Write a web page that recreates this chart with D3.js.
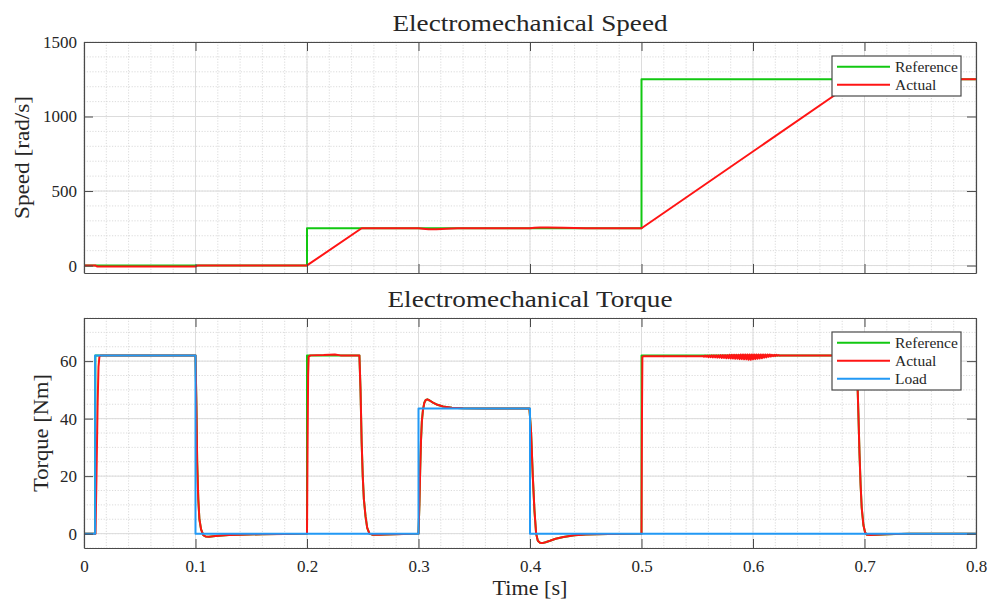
<!DOCTYPE html>
<html><head><meta charset="utf-8">
<script src="https://cdn.jsdelivr.net/npm/d3@7"></script>
<style>
body{margin:0;background:#fff}
svg{display:block}
text{font-family:"Liberation Serif","Times New Roman",serif;fill:#262626}
</style></head><body>
<svg id="chart" width="989" height="601"></svg>
<script>
// ---------------- data ----------------
const xTicks = [0, 0.1, 0.2, 0.3, 0.4, 0.5, 0.6, 0.7, 0.8];
const xTickLabels = ["0", "0.1", "0.2", "0.3", "0.4", "0.5", "0.6", "0.7", "0.8"];
const speedTicks = [0, 500, 1000, 1500];
const speedTickLabels = ["0", "500", "1000", "1500"];
const torqueTicks = [0, 20, 40, 60];
const torqueTickLabels = ["0", "20", "40", "60"];

const speedRefTime  = [0, 0.2, 0.2, 0.5, 0.5, 0.8];
const speedRefValue = [0, 0, 250, 250, 1250, 1250];

const speedActTime  = [0, 0.0105, 0.012, 0.1, 0.102, 0.2, 0.249, 0.3, 0.304, 0.309, 0.316, 0.325, 0.335, 0.4, 0.404, 0.409, 0.416, 0.43, 0.45, 0.5, 0.694, 0.8];
const speedActValue = [0, 0, -7, -7, 1, 1, 250, 250, 247, 244, 244, 247, 250, 250, 253, 256, 256, 253, 250, 250, 1250, 1250];

const torqueRefTime  = [0, 0.01, 0.0102, 0.1, 0.1008, 0.1015, 0.1025, 0.1035, 0.105, 0.107, 0.109, 0.112, 0.118, 0.13, 0.16, 0.2,
  0.2, 0.247, 0.248, 0.249, 0.25, 0.251, 0.2525, 0.254, 0.256, 0.259, 0.27, 0.3,
  0.3008, 0.3015, 0.3022, 0.303, 0.304, 0.3052, 0.3065, 0.308, 0.31, 0.313, 0.317, 0.322, 0.33, 0.34, 0.36, 0.3995,
  0.401, 0.4025, 0.404, 0.4055, 0.407, 0.409, 0.411, 0.414, 0.418, 0.423, 0.43, 0.44, 0.45, 0.47, 0.5,
  0.5, 0.6925, 0.6935, 0.6945, 0.6955, 0.6965, 0.6975, 0.699, 0.7005, 0.702, 0.71, 0.74, 0.8];
const torqueRefValue = [0, 0, 62, 62, 45, 25, 12, 5, 1.5, -0.5, -1, -1.1, -0.8, -0.5, -0.2, 0,
  62, 62, 50, 32, 20, 12, 6, 2, 0, -0.4, -0.3, 0,
  10, 22, 32, 39, 43, 45.5, 46.5, 46.7, 46.3, 45.6, 44.8, 44.2, 43.8, 43.6, 43.5, 43.5,
  35, 20, 8, 0, -2.5, -3.2, -3.3, -3, -2.5, -1.8, -1.2, -0.6, -0.3, -0.1, 0,
  62, 62, 55, 42, 28, 17, 9, 3, 0.5, -0.4, -0.4, 0, 0];

// actual torque as [time, value] rows
const torqueActual = [
  [0, 0], [0.0103, 0], [0.0112, 20], [0.0122, 45], [0.013, 58], [0.0138, 61.5], [0.015, 62], [0.1, 62],
  [0.1008, 45], [0.1015, 25], [0.1025, 12], [0.1035, 5], [0.105, 1.5], [0.107, -0.5], [0.109, -1], [0.112, -1.1],
  [0.118, -0.8], [0.13, -0.5], [0.14, -0.4], [0.16, -0.2], [0.18, -0.1], [0.2, 0],
  [0.2005, 30], [0.201, 55], [0.2015, 61.5], [0.203, 62], [0.215, 62.1], [0.225, 62.3], [0.23, 62], [0.247, 62],
  [0.248, 50], [0.249, 32], [0.25, 20], [0.251, 12], [0.2525, 6], [0.254, 2], [0.256, 0], [0.259, -0.4],
  [0.265, -0.4], [0.27, -0.3], [0.28, -0.2], [0.3, 0],
  [0.3008, 10], [0.3015, 22], [0.3022, 32], [0.303, 39], [0.304, 43], [0.3052, 45.5], [0.3065, 46.5], [0.308, 46.7],
  [0.31, 46.3], [0.313, 45.6], [0.317, 44.8], [0.322, 44.2], [0.33, 43.8], [0.34, 43.6], [0.36, 43.5], [0.3995, 43.5],
  [0.401, 35], [0.4025, 20], [0.404, 8], [0.4055, 0], [0.407, -2.5], [0.409, -3.2], [0.411, -3.3], [0.414, -3],
  [0.418, -2.5], [0.423, -1.8], [0.43, -1.2], [0.44, -0.6], [0.45, -0.3], [0.47, -0.1], [0.5, 0],
  [0.5, 0], [0.5004, 40], [0.5008, 61.5], [0.502, 61.7], [0.554, 61.7],
  [0.555, 61.8], [0.556, 61.5], [0.557, 61.9], [0.558, 61.5], [0.559, 61.9], [0.560, 61.4], [0.561, 61.9], [0.562, 61.4],
  [0.563, 62.0], [0.564, 61.3], [0.565, 62.0], [0.566, 61.3], [0.567, 62.0], [0.568, 61.2], [0.569, 62.0], [0.570, 61.2],
  [0.571, 62.1], [0.572, 61.1], [0.573, 62.1], [0.574, 61.1], [0.575, 62.1], [0.576, 61.0], [0.577, 62.1], [0.578, 61.0],
  [0.579, 62.2], [0.580, 60.9], [0.581, 62.2], [0.582, 60.9], [0.583, 62.2], [0.584, 60.8], [0.585, 62.2], [0.586, 60.8],
  [0.587, 62.2], [0.588, 60.7], [0.589, 62.3], [0.590, 60.7], [0.591, 62.3], [0.592, 60.6], [0.593, 62.3], [0.594, 60.6],
  [0.595, 62.3], [0.596, 60.5], [0.597, 62.3], [0.598, 60.5], [0.599, 62.3], [0.600, 60.6], [0.601, 62.3], [0.602, 60.7],
  [0.603, 62.3], [0.604, 60.8], [0.605, 62.3], [0.606, 60.9], [0.607, 62.3], [0.608, 61.0], [0.609, 62.3], [0.610, 61.2],
  [0.611, 62.3], [0.612, 61.3], [0.613, 62.3], [0.614, 61.5], [0.615, 62.3], [0.616, 61.6], [0.617, 62.2], [0.618, 61.7],
  [0.619, 62.2], [0.620, 61.8], [0.621, 62.2], [0.622, 61.9], [0.623, 62.1], [0.624, 61.9], [0.625, 62.0],
  [0.63, 62], [0.6925, 62], [0.6935, 55], [0.6945, 42], [0.6955, 28], [0.6965, 17], [0.6975, 9], [0.699, 3],
  [0.7005, 0.5], [0.702, -0.4], [0.705, -0.5], [0.71, -0.4], [0.72, -0.2], [0.74, 0], [0.8, 0]
];

const loadTime  = [0, 0.01, 0.01, 0.1, 0.1, 0.3, 0.3, 0.4, 0.4, 0.8];
const loadValue = [0, 0, 62, 62, 0, 0, 43.5, 43.5, 0, 0];

const speedLegend = ["Reference", "Actual"];
const torqueLegend = ["Reference", "Actual", "Load"];

// ---------------- styles ----------------
const C_REF = "#12c812", C_ACT = "#ff1414", C_LOAD = "#2299f5";
const AX = "#4a4a4a";
const svg = d3.select("#chart");
const X0 = 84, X1 = 976;

function panel(cfg) {
  const x = d3.scaleLinear().domain([0, 0.8]).range([X0, X1]);
  const y = d3.scaleLinear().domain(cfg.yDomain).range([cfg.bottom, cfg.top]);
  const g = svg.append("g");
  const clipId = "clip" + cfg.id;
  svg.append("clipPath").attr("id", clipId).append("rect")
    .attr("x", X0).attr("y", cfg.top).attr("width", X1 - X0).attr("height", cfg.bottom - cfg.top);

  // minor grid
  const gm = g.append("g").attr("stroke", "#d2d2d2").attr("stroke-width", 0.8).attr("stroke-dasharray", "1.2,1.6");
  x.ticks(40).forEach(t => gm.append("line").attr("x1", x(t)).attr("x2", x(t)).attr("y1", cfg.top).attr("y2", cfg.bottom));
  y.ticks(cfg.minorCount).forEach(t => gm.append("line").attr("y1", y(t)).attr("y2", y(t)).attr("x1", X0).attr("x2", X1));
  // major grid
  const gM = g.append("g").attr("stroke", "#dcdcdc").attr("stroke-width", 1);
  xTicks.forEach(t => gM.append("line").attr("x1", x(t)).attr("x2", x(t)).attr("y1", cfg.top).attr("y2", cfg.bottom));
  cfg.yTicks.forEach(t => gM.append("line").attr("y1", y(t)).attr("y2", y(t)).attr("x1", X0).attr("x2", X1));

  // lines
  const line = d3.line().x(d => x(d[0])).y(d => y(d[1]));
  const lg = g.append("g").attr("clip-path", `url(#${clipId})`);
  cfg.series.forEach(s => {
    lg.append("path").datum(s.data).attr("d", line)
      .attr("fill", "none").attr("stroke", s.color).attr("stroke-width", 2)
      .attr("stroke-linejoin", "round");
  });

  // axes
  const TL = 9;
  const bottomAxis = d3.axisBottom(x).tickValues(xTicks).tickSizeInner(-TL).tickSizeOuter(0).tickPadding(12)
    .tickFormat((d, i) => cfg.showX ? xTickLabels[i] : "");
  const topAxis = d3.axisTop(x).tickValues(xTicks).tickSizeInner(-TL).tickSizeOuter(0).tickFormat("");
  const leftAxis = d3.axisLeft(y).tickValues(cfg.yTicks).tickSizeInner(-TL).tickSizeOuter(0).tickPadding(7)
    .tickFormat((d, i) => cfg.yLabels[i]);
  const rightAxis = d3.axisRight(y).tickValues(cfg.yTicks).tickSizeInner(-TL).tickSizeOuter(0).tickFormat("");
  const axes = [
    g.append("g").attr("transform", `translate(0,${cfg.bottom})`).call(bottomAxis),
    g.append("g").attr("transform", `translate(0,${cfg.top})`).call(topAxis),
    g.append("g").attr("transform", `translate(${X0},0)`).call(leftAxis),
    g.append("g").attr("transform", `translate(${X1},0)`).call(rightAxis)
  ];
  axes.forEach(a => {
    a.attr("font-family", '"Liberation Serif", serif');
    a.select(".domain").attr("stroke", AX).attr("stroke-width", 1.2);
    a.selectAll(".tick line").attr("stroke", AX).attr("stroke-width", 1);
    a.selectAll(".tick text").attr("font-size", 17).attr("fill", "#262626");
  });

  // title
  svg.append("text").attr("x", (X0 + X1) / 2).attr("y", cfg.top - 11).attr("text-anchor", "middle")
    .attr("font-size", 24).attr("textLength", cfg.titleLen).attr("lengthAdjust", "spacingAndGlyphs")
    .text(cfg.title);
  // y label
  svg.append("text").attr("transform", `translate(${cfg.yLabelX},${(cfg.top + cfg.bottom) / 2}) rotate(-90)`)
    .attr("text-anchor", "middle").attr("font-size", 21)
    .attr("textLength", cfg.yLabelLen).attr("lengthAdjust", "spacingAndGlyphs")
    .text(cfg.yLabel);

  // legend
  const L = cfg.legend;
  const lgG = svg.append("g");
  lgG.append("rect").attr("x", L.x).attr("y", L.y).attr("width", L.w).attr("height", L.h)
    .attr("fill", "#fff").attr("stroke", AX).attr("stroke-width", 1.2);
  cfg.legendNames.forEach((n, i) => {
    const yy = L.y + 10.7 + i * 18;
    lgG.append("line").attr("x1", L.x + 5).attr("x2", L.x + 58).attr("y1", yy).attr("y2", yy)
      .attr("stroke", cfg.series[i].color).attr("stroke-width", 2);
    lgG.append("text").attr("x", L.x + 63).attr("y", yy + 5).attr("font-size", 15.5).text(n);
  });
  return {x, y};
}

panel({
  id: "s", top: 42, bottom: 273, yDomain: [-50, 1500], minorCount: 16,
  yTicks: speedTicks, yLabels: speedTickLabels, showX: false,
  title: "Electromechanical Speed", titleLen: 275,
  yLabel: "Speed [rad/s]", yLabelX: 29, yLabelLen: 123,
  series: [
    {data: d3.zip(speedRefTime, speedRefValue), color: C_REF},
    {data: d3.zip(speedActTime, speedActValue), color: C_ACT}
  ],
  legendNames: speedLegend,
  legend: {x: 832, y: 56, w: 129, h: 40}
});

panel({
  id: "t", top: 318, bottom: 548, yDomain: [-5, 75], minorCount: 16,
  yTicks: torqueTicks, yLabels: torqueTickLabels, showX: true,
  title: "Electromechanical Torque", titleLen: 285,
  yLabel: "Torque [Nm]", yLabelX: 48, yLabelLen: 118,
  series: [
    {data: d3.zip(torqueRefTime, torqueRefValue), color: C_REF},
    {data: torqueActual, color: C_ACT},
    {data: d3.zip(loadTime, loadValue), color: C_LOAD}
  ],
  legendNames: torqueLegend,
  legend: {x: 832, y: 332, w: 129, h: 58}
});

svg.append("text").attr("x", (X0 + X1) / 2).attr("y", 595).attr("text-anchor", "middle")
  .attr("font-size", 21).attr("textLength", 75).attr("lengthAdjust", "spacingAndGlyphs").text("Time [s]");
</script>
</body></html>
